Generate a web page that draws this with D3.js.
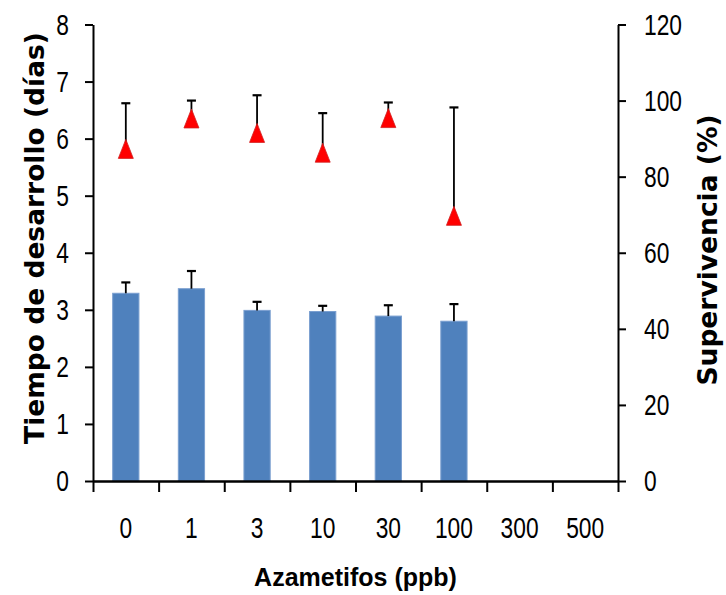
<!DOCTYPE html>
<html lang="es">
<head>
<meta charset="UTF-8">
<title>Azametifos: tiempo de desarrollo y supervivencia</title>
<script src="https://cdnjs.cloudflare.com/ajax/libs/d3/7.8.5/d3.min.js"></script>
<style>
  body { margin: 0; background: #fff; }
  .tick text, text.xlab { font-family: "Liberation Sans", Arial, sans-serif; font-size: 30px; fill: #000; }
  .axis path, .axis line { stroke: #000; }
  .title-v { font-family: "DejaVu Sans", Verdana, sans-serif; font-weight: bold; font-size: 26.5px; }
  .title-x { font-family: "Liberation Sans", Arial, sans-serif; font-weight: bold; font-size: 25px; }
</style>
</head>
<body>
<div id="chart"></div>
<script>
// concentrations on the x axis
const doses = ['0', '1', '3', '10', '30', '100', '300', '500'];

// development time (days), mean and error
const devTime = [3.29, 3.37, 2.99, 2.97, 2.89, 2.80];
const devErr  = [0.19, 0.31, 0.15, 0.10, 0.19, 0.30];

// survival (%), mean and error
const survival = [87.3, 95.3, 91.5, 86.3, 95.4, 69.7];
const survErr  = [12.0, 4.7, 9.9, 10.4, 4.1, 28.5];

const leftTicks = [0, 1, 2, 3, 4, 5, 6, 7, 8];
const rightTicks = [0, 20, 40, 60, 80, 100, 120];

const width = 726, height = 595;
const margin = { top: 24.5, right: 108, bottom: 114, left: 93 };
const innerW = width - margin.left - margin.right;
const innerH = height - margin.top - margin.bottom;

// squeeze digits horizontally so they look like a narrow face
const squeeze = 0.76;
function narrow(sel) {
  sel.each(function () {
    const t = d3.select(this);
    const x0 = +t.attr('x') || 0;
    t.attr('x', x0 / squeeze).attr('transform', `scale(${squeeze},1)`);
  });
}

const svg = d3.select('#chart').append('svg')
  .attr('width', width)
  .attr('height', height);

const g = svg.append('g')
  .attr('transform', `translate(${margin.left},${margin.top})`);

const x = d3.scaleBand().domain(doses).range([0, innerW]);
const yL = d3.scaleLinear().domain([0, 8]).range([innerH, 0]);
const yR = d3.scaleLinear().domain([0, 120]).range([innerH, 0]);
const barW = x.bandwidth() * 0.4;
const cx = d => x(d.dose) + x.bandwidth() / 2;

// bars
const bars = doses.slice(0, devTime.length).map((d, i) => ({ dose: d, v: devTime[i], e: devErr[i] }));
g.selectAll('rect.bar')
  .data(bars)
  .join('rect')
  .attr('class', 'bar')
  .attr('x', d => cx(d) - barW / 2)
  .attr('y', d => yL(d.v))
  .attr('width', barW)
  .attr('height', d => innerH - yL(d.v))
  .attr('fill', '#4f81bd')
  .attr('stroke', '#7a9fd0')
  .attr('stroke-width', 1);

// upper error bars
const capW = 9;
function errorBars(data, y) {
  const eg = g.append('g').attr('stroke', '#000');
  eg.selectAll('line.stem')
    .data(data)
    .join('line')
    .attr('x1', cx).attr('x2', cx)
    .attr('y1', d => y(d.v))
    .attr('y2', d => y(d.v + d.e))
    .attr('stroke-width', 1.8);
  eg.selectAll('line.cap')
    .data(data)
    .join('line')
    .attr('x1', d => cx(d) - capW / 2)
    .attr('x2', d => cx(d) + capW / 2)
    .attr('y1', d => y(d.v + d.e))
    .attr('y2', d => y(d.v + d.e))
    .attr('stroke-width', 2.2);
}
errorBars(bars, yL);

// survival points
const pts = doses.slice(0, survival.length).map((d, i) => ({ dose: d, v: survival[i], e: survErr[i] }));
errorBars(pts, yR);

const tw = 15, th = 19;
g.selectAll('path.tri')
  .data(pts)
  .join('path')
  .attr('class', 'tri')
  .attr('transform', d => `translate(${cx(d)},${yR(d.v)})`)
  .attr('d', `M0,${-th / 2}L${tw / 2},${th / 2}L${-tw / 2},${th / 2}Z`)
  .attr('fill', '#ff0000')
  .attr('stroke', '#d02020')
  .attr('stroke-width', 0.8);

// left axis
const axL = g.append('g').attr('class', 'axis')
  .call(d3.axisLeft(yL).tickValues(leftTicks).tickSize(8).tickPadding(16).tickSizeOuter(0));
axL.select('.domain').attr('stroke-width', 2);
axL.selectAll('.tick line').attr('stroke-width', 2);
axL.selectAll('.tick text').call(narrow);

// right axis
const axR = g.append('g').attr('class', 'axis')
  .attr('transform', `translate(${innerW},0)`)
  .call(d3.axisRight(yR).tickValues(rightTicks).tickSize(8).tickPadding(18).tickSizeOuter(0));
axR.select('.domain').attr('stroke-width', 2);
axR.selectAll('.tick line').attr('stroke-width', 2);
axR.selectAll('.tick text').call(narrow);

// bottom axis: ticks on category boundaries, labels in the middle
const xb = d3.scaleLinear().domain([0, doses.length]).range([0, innerW]);
const axB = g.append('g').attr('class', 'axis')
  .attr('transform', `translate(0,${innerH})`)
  .call(d3.axisBottom(xb).ticks(doses.length).tickSize(11).tickFormat('').tickSizeOuter(0));
axB.select('.domain').attr('stroke-width', 2.6);
axB.selectAll('.tick line').attr('stroke-width', 2);

g.append('g')
  .selectAll('text')
  .data(doses)
  .join('text')
  .attr('class', 'xlab')
  .attr('x', d => x(d) + x.bandwidth() / 2)
  .attr('y', innerH + 57)
  .attr('text-anchor', 'middle')
  .text(d => d)
  .call(narrow);

// axis titles
svg.append('text')
  .attr('class', 'title-v')
  .attr('transform', 'translate(44,238) rotate(-90)')
  .attr('text-anchor', 'middle')
  .text('Tiempo de desarrollo (días)');

svg.append('text')
  .attr('class', 'title-v')
  .attr('transform', 'translate(717,250) rotate(-90)')
  .attr('text-anchor', 'middle')
  .text('Supervivencia (%)');

svg.append('text')
  .attr('class', 'title-x')
  .attr('x', margin.left + innerW / 2)
  .attr('y', 586)
  .attr('text-anchor', 'middle')
  .text('Azametifos (ppb)');
</script>
</body>
</html>
